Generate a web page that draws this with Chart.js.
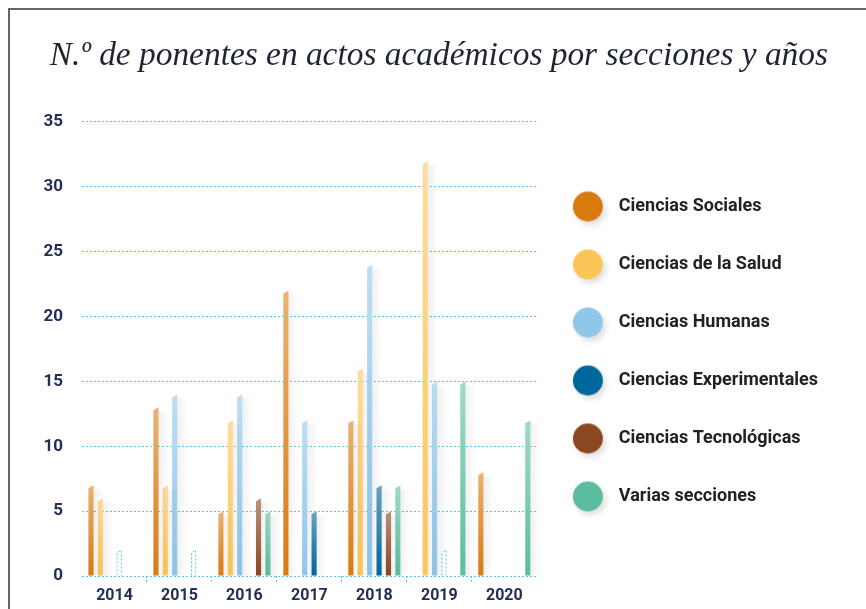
<!DOCTYPE html>
<html>
<head>
<meta charset="utf-8">
<script src="https://cdn.jsdelivr.net/npm/chart.js@4.4.1/dist/chart.umd.min.js"></script>
<style>
  html, body { margin: 0; padding: 0; background: #fff; }
  #wrap { position: relative; width: 866px; height: 609px; overflow: hidden; }
  #frame { position: absolute; left: 8px; top: 8px; width: 900px; height: 700px;
           border-top: 2px solid #666; border-left: 2px solid #666; }
  #chart { position: absolute; left: 0; top: 0; }
</style>
</head>
<body>
<div id="wrap">
  <div id="frame"></div>
  <canvas id="chart" width="866" height="609"></canvas>
</div>
<script>
// chart data
const years = ['2014', '2015', '2016', '2017', '2018', '2019', '2020'];
const sociales       = [7, 13, 5, 22, 12, null, 8];
const salud          = [6, 7, 12, null, 16, 32, null];
const humanas        = [null, 14, 14, 12, 24, 15, null];
const experimentales = [2, null, null, 5, 7, 2, null];
const tecnologicas   = [null, 2, 6, null, 5, null, null];
const varias         = [null, null, 5, null, 7, 15, 12];
// values shown only as dotted outlines
const experimentalesDotted = [true, false, false, false, false, true, false];
const tecnologicasDotted   = [false, true, false, false, false, false, false];
const seriesNames = ['Ciencias Sociales', 'Ciencias de la Salud', 'Ciencias Humanas',
                     'Ciencias Experimentales', 'Ciencias Tecnológicas', 'Varias secciones'];
const yTicks = [0, 5, 10, 15, 20, 25, 30, 35];

const seriesValues = [sociales, salud, humanas, experimentales, tecnologicas, varias];
const seriesDotted = [null, null, null, experimentalesDotted, tecnologicasDotted, null];
const colors = ['#d97a0f', '#fcc558', '#8fc6ea', '#00679c', '#8a4722', '#5bbda0'];
const navy = '#232d58';
const gridBlue = '#5cc4ec';
const titleText = 'N.º de ponentes en actos académicos por secciones y años';

// lighter version of a colour for the top of each bar
function tint(hex, k) {
  const n = parseInt(hex.slice(1), 16);
  const r = (n >> 16) & 255, g = (n >> 8) & 255, b = n & 255;
  const m = c => Math.round(c + (255 - c) * k);
  return 'rgb(' + m(r) + ',' + m(g) + ',' + m(b) + ')';
}

// legend dots with a soft shadow
function makeDot(color) {
  const c = document.createElement('canvas');
  c.width = 44; c.height = 44;
  const g = c.getContext('2d');
  g.shadowColor = 'rgba(0,0,0,0.13)';
  g.shadowBlur = 6;
  g.shadowOffsetX = 3;
  g.shadowOffsetY = 4;
  g.fillStyle = color;
  g.beginPath();
  g.arc(22, 22, 15, 0, Math.PI * 2);
  g.fill();
  return c;
}
const dots = colors.map(makeDot);

// measure text so the plot area lands where the original has it
const measure = document.createElement('canvas').getContext('2d');
const legendFontSize = 18;
measure.font = 'bold ' + legendFontSize + 'px Roboto';
const legendTextW = Math.max(...seriesNames.map(s => measure.measureText(s).width));
const legendPad = 29;
const legendBox = 2 * (620 - 589 - legendFontSize / 2);
const rightPad = Math.round(866 - 537 - (legendPad + legendBox + legendFontSize / 2 + legendTextW + 10));

measure.font = 'bold 17px Roboto';
const yLabelW = Math.max(...yTicks.map(v => measure.measureText(String(v)).width));
const yTickPad = 19;
const leftPad = 82 - yLabelW - 2 * yTickPad;

measure.font = 'italic 30px "Liberation Serif"';
const titleSize = Math.round(30 * 778 / measure.measureText(titleText).width * 10) / 10;
const titleLH = titleSize * 1.2;
const titleTop = 56 - titleLH / 2;
const titleBottom = 122 - titleTop - titleLH;

// draws bars as thin prisms with a slanted top
const prismBars = {
  id: 'prismBars',
  beforeDatasetDraw(chart, args) {
    const ctx = chart.ctx;
    const i = args.index;
    const vals = chart.data.datasets[i].data;
    const dotted = seriesDotted[i];
    ctx.save();
    args.meta.data.forEach((bar, j) => {
      if (vals[j] == null) return;
      const p = bar.getProps(['x', 'y', 'base', 'width'], true);
      const l = p.x - p.width / 2, r = p.x + p.width / 2;
      const slant = 3;
      if (dotted && dotted[j]) {
        ctx.setLineDash([2, 2]);
        ctx.strokeStyle = gridBlue;
        ctx.lineWidth = 1;
        ctx.beginPath();
        ctx.moveTo(l + 0.5, p.base);
        ctx.lineTo(l + 0.5, p.y + slant);
        ctx.lineTo(r - 0.5, p.y);
        ctx.lineTo(r - 0.5, p.base);
        ctx.stroke();
        ctx.setLineDash([]);
        return;
      }
      const sg = ctx.createLinearGradient(r, 0, r + 10, 0);
      sg.addColorStop(0, 'rgba(0,0,0,0.06)');
      sg.addColorStop(1, 'rgba(0,0,0,0)');
      ctx.fillStyle = sg;
      ctx.fillRect(r, p.y + 4, 10, p.base - p.y - 4);

      const g = ctx.createLinearGradient(0, p.y, 0, p.base);
      g.addColorStop(0, tint(colors[i], 0.42));
      g.addColorStop(1, colors[i]);
      ctx.fillStyle = g;
      ctx.beginPath();
      ctx.moveTo(l, p.base);
      ctx.lineTo(l, p.y + slant);
      ctx.lineTo(r, p.y);
      ctx.lineTo(r, p.base);
      ctx.closePath();
      ctx.fill();
    });
    ctx.restore();
    return false;
  }
};

const ctx = document.getElementById('chart').getContext('2d');
const chart = new Chart(ctx, {
  type: 'bar',
  data: {
    labels: years,
    datasets: seriesValues.map((vals, i) => ({
      label: seriesNames[i],
      data: vals,
      backgroundColor: colors[i],
      categoryPercentage: 0.868,
      barPercentage: 0.55
    }))
  },
  options: {
    responsive: false,
    animation: false,
    layout: { padding: { left: leftPad, right: rightPad, top: 0, bottom: 1 } },
    plugins: {
      title: {
        display: true,
        text: titleText,
        align: 'end',
        color: '#1f2433',
        font: { family: '"Liberation Serif"', style: 'italic', weight: 'normal', size: titleSize, lineHeight: 1.2 },
        padding: { top: titleTop, bottom: titleBottom }
      },
      legend: {
        position: 'right',
        fullSize: false,
        maxWidth: 400,
        title: { display: true, text: '', padding: 0, font: { size: 12, lineHeight: '16px' } },
        labels: {
          usePointStyle: true,
          pointStyleWidth: legendBox,
          padding: legendPad,
          color: '#222',
          font: { family: 'Roboto', weight: 'bold', size: legendFontSize, lineHeight: legendPad + 'px' },
          generateLabels(chart) {
            const items = Chart.defaults.plugins.legend.labels.generateLabels(chart);
            return items.map(it => Object.assign(it, {
              text: [it.text],
              pointStyle: dots[it.datasetIndex],
              lineWidth: 0
            }));
          }
        }
      },
      tooltip: { enabled: false }
    },
    scales: {
      x: {
        border: { display: false },
        grid: {
          offset: true,
          drawOnChartArea: false,
          tickLength: 8,
          tickBorderDash: [2, 2],
          tickColor: c => (c.index > 0 && c.index !== undefined) ? gridBlue : 'rgba(0,0,0,0)'
        },
        ticks: { padding: 4, color: navy, font: { family: 'Roboto', weight: 'bold', size: 16, lineHeight: 1 } }
      },
      y: {
        min: yTicks[0],
        max: yTicks[yTicks.length - 1],
        afterBuildTicks: s => { s.ticks = yTicks.map(v => ({ value: v })); },
        border: { display: false, dash: [2, 2] },
        grid: { color: gridBlue, drawTicks: false },
        ticks: { padding: yTickPad, color: navy, font: { family: 'Roboto', weight: 'bold', size: 17 } }
      }
    }
  },
  plugins: [prismBars]
});
</script>
</body>
</html>
